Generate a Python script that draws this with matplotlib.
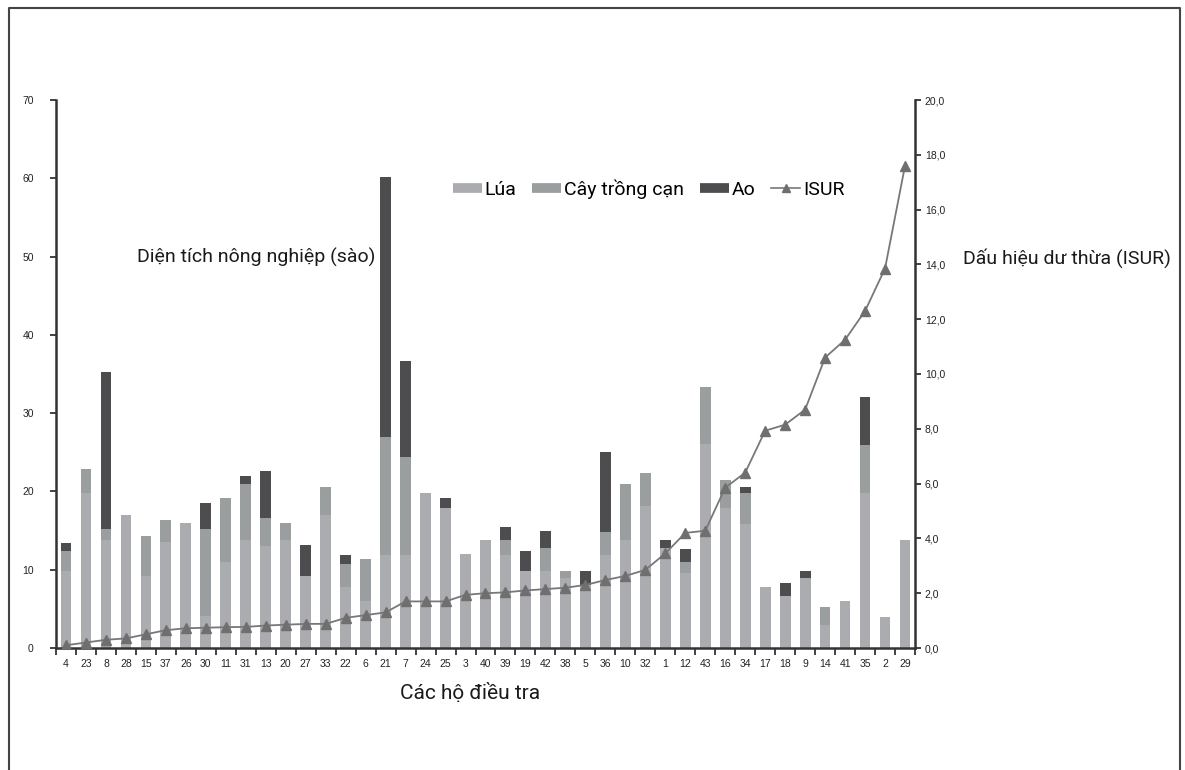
#!/usr/bin/env python

import matplotlib
matplotlib.use("Agg")
import matplotlib.pyplot as plt
from matplotlib.lines import Line2D
from matplotlib.ticker import FuncFormatter
import numpy as np

households = ['4', '23', '8', '28', '15', '37', '26', '30', '11', '31',
              '13', '20', '27', '33', '22', '6', '21', '7', '24', '25',
              '3', '40', '39', '19', '42', '38', '5', '36', '10', '32',
              '1', '12', '43', '16', '34', '17', '18', '9', '14', '41',
              '35', '2', '29']

lua = [9.8, 19.8, 13.8, 17.0, 9.2, 13.5, 16.0, 4.1, 11.0, 13.8,
       13.0, 13.8, 9.2, 17.0, 7.8, 6.0, 11.9, 11.9, 19.8, 17.9,
       12.0, 13.8, 11.9, 9.8, 9.8, 9.0, 8.1, 11.9, 13.8, 18.2,
       12.8, 9.6, 26.1, 17.9, 15.9, 7.8, 6.6, 8.9, 3.0, 6.0,
       19.8, 3.9, 13.8]

cay_trong_can = [2.6, 3.1, 1.4, 0, 5.1, 2.9, 0, 11.1, 8.2, 7.2,
                 3.6, 2.2, 0, 3.6, 2.9, 5.4, 15.1, 12.5, 0, 0,
                 0, 0, 1.9, 0, 3.0, 0.8, 0, 2.9, 7.2, 4.2,
                 0, 1.4, 7.2, 3.6, 3.9, 0, 0, 0, 2.2, 0,
                 6.1, 0, 0]

ao = [1.0, 0, 20.0, 0, 0, 0, 0, 3.3, 0, 1.0,
      6.0, 0, 4.0, 0, 1.2, 0, 33.2, 12.2, 0, 1.3,
      0, 0, 1.7, 2.6, 2.2, 0, 1.7, 10.2, 0, 0,
      1.0, 1.6, 0, 0, 0.8, 0, 1.7, 0.9, 0, 0,
      6.1, 0, 0]

isur = [0.1, 0.2, 0.3, 0.35, 0.5, 0.65, 0.72, 0.74, 0.76, 0.77,
        0.82, 0.85, 0.88, 0.88, 1.1, 1.2, 1.3, 1.7, 1.7, 1.7,
        1.94, 2.0, 2.03, 2.1, 2.15, 2.2, 2.3, 2.48, 2.63, 2.85,
        3.45, 4.2, 4.28, 5.85, 6.4, 7.93, 8.15, 8.7, 10.6, 11.25,
        12.3, 13.85, 17.6]

C_LUA = "#abacaf"
C_CAY = "#9a9e9e"
C_AO = "#4d4d4f"
C_LINE = "#787878"
# no condensed font available, Roboto is the narrowest one
NARROW = ['Roboto', 'DejaVu Sans']
TICKFONT = ['Liberation Sans', 'DejaVu Sans']


def main():
    fig = plt.figure(figsize=(11.85, 7.7), dpi=100)
    ax = fig.add_axes([56 / 1185, 1 - 648 / 770, 859 / 1185, 548 / 770])

    x = np.arange(len(households))
    lua_a = np.array(lua)
    cay_a = np.array(cay_trong_can)
    ao_a = np.array(ao)
    w = 0.54
    ax.bar(x, lua_a, w, color=C_LUA, zorder=2)
    ax.bar(x, cay_a, w, bottom=lua_a, color=C_CAY, zorder=2)
    ax.bar(x, ao_a, w, bottom=lua_a + cay_a, color=C_AO, zorder=2)

    ax.set_xlim(-0.5, len(households) - 0.5)
    ax.set_ylim(0, 70)
    ax.set_yticks(range(0, 71, 10))
    ax.set_xticks(x)
    ax.set_xticklabels(households)
    ax.set_xticks(np.arange(-0.5, len(households), 1.0), minor=True)
    ax.tick_params(axis='x', which='major', length=0, pad=8, labelsize=7.5)
    ax.tick_params(axis='x', which='minor', length=5, width=1.2, direction='out', color='#222222')
    ax.tick_params(axis='y', length=4, width=1.2, direction='out', labelsize=7.5, pad=12, color='#222222')
    for lab in ax.get_xticklabels() + ax.get_yticklabels():
        lab.set_family(TICKFONT)
        lab.set_color('#222222')

    for s in ['top', 'right']:
        ax.spines[s].set_visible(False)
    for s in ['left', 'bottom']:
        ax.spines[s].set_color('#333333')
        ax.spines[s].set_linewidth(1.8)

    ax2 = ax.twinx()
    ax2.plot(x, isur, color=C_LINE, lw=1.3, marker='^', markersize=7,
             markerfacecolor='#6f6f6f', markeredgecolor='#6f6f6f', zorder=3)
    ax2.set_ylim(0, 20)
    ax2.set_yticks(np.arange(0, 20.1, 2))
    ax2.yaxis.set_major_formatter(FuncFormatter(lambda v, p: f"{v:.1f}".replace('.', ',')))
    ax2.tick_params(axis='y', length=4, width=1.2, direction='out', labelsize=7.5, pad=3, color='#222222')
    for lab in ax2.get_yticklabels():
        lab.set_family(TICKFONT)
        lab.set_color('#222222')
    for s in ['top', 'left', 'bottom']:
        ax2.spines[s].set_visible(False)
    ax2.spines['right'].set_color('#333333')
    ax2.spines['right'].set_linewidth(1.8)

    handles = [
        Line2D([], [], color=C_LUA, lw=7, solid_capstyle='butt'),
        Line2D([], [], color=C_CAY, lw=7, solid_capstyle='butt'),
        Line2D([], [], color=C_AO, lw=7, solid_capstyle='butt'),
        Line2D([], [], color=C_LINE, lw=1.2, marker='^', markersize=6,
               markerfacecolor='#6f6f6f', markeredgecolor='#6f6f6f'),
    ]
    ax2.legend(handles, ['Lúa', 'Cây trồng cạn', 'Ao', 'ISUR'], ncol=4,
               loc='center', bbox_to_anchor=(0.69, 0.838), frameon=False,
               prop={'family': NARROW, 'size': 14}, handlelength=1.5,
               handletextpad=0.15, columnspacing=0.8)

    fig.text(137 / 1185, 1 - 257 / 770, "Diện tích nông nghiệp (sào)",
             family=NARROW, fontsize=14, va='center', ha='left', color='#1a1a1a')
    fig.text(963 / 1185, 1 - 258 / 770, "Dấu hiệu dư thừa (ISUR)",
             family=NARROW, fontsize=14, va='center', ha='left', color='#1a1a1a')
    fig.text(470 / 1185, 1 - 693 / 770, "Các hộ điều tra",
             family=NARROW, fontsize=15, va='center', ha='center', color='#1a1a1a')

    # outer frame, open at the bottom
    fx = [9 / 1185, 9 / 1185, 1180 / 1185, 1180 / 1185]
    fy = [0, 1 - 8 / 770, 1 - 8 / 770, 0]
    fig.add_artist(Line2D(fx, fy, color='#444444', lw=1.5, transform=fig.transFigure))

    fig.savefig("out.png", dpi=100)


if __name__ == "__main__":
    main()
